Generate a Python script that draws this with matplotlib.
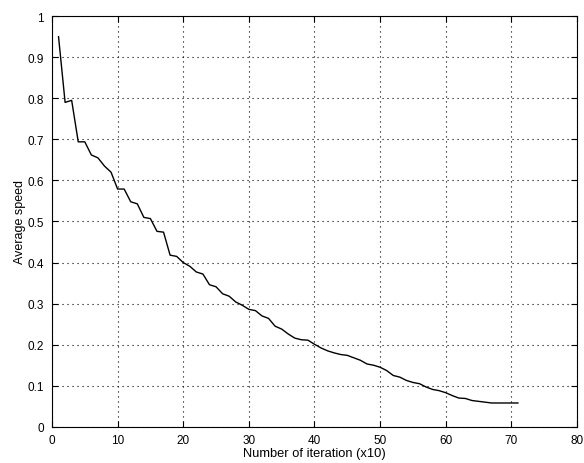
import matplotlib
matplotlib.use('Agg')
import matplotlib.pyplot as plt
plt.rcParams['font.family'] = ['Liberation Sans', 'DejaVu Sans']

iterations = list(range(1, 72))
speed = [0.95, 0.79, 0.795, 0.694, 0.694, 0.662, 0.655, 0.635, 0.620, 0.579,
         0.579, 0.548, 0.543, 0.510, 0.507, 0.476, 0.474, 0.418, 0.415, 0.400,
         0.391, 0.377, 0.372, 0.346, 0.341, 0.324, 0.318, 0.304, 0.296, 0.286,
         0.283, 0.270, 0.264, 0.245, 0.238, 0.226, 0.216, 0.212, 0.211, 0.201,
         0.192, 0.185, 0.180, 0.176, 0.174, 0.168, 0.162, 0.153, 0.150, 0.145,
         0.137, 0.125, 0.121, 0.113, 0.108, 0.105, 0.097, 0.091, 0.088, 0.083,
         0.076, 0.070, 0.069, 0.064, 0.062, 0.060, 0.058, 0.058, 0.058, 0.058,
         0.058]
xticks = [0, 10, 20, 30, 40, 50, 60, 70, 80]
yticks = [0, 0.1, 0.2, 0.3, 0.4, 0.5, 0.6, 0.7, 0.8, 0.9, 1]
ytick_labels = ['0', '0.1', '0.2', '0.3', '0.4', '0.5', '0.6', '0.7', '0.8', '0.9', '1']

fig = plt.figure(figsize=(5.84, 4.64), dpi=100)
ax = fig.add_axes([0.089, 0.078, 0.899, 0.885])
ax.plot(iterations, speed, color='black', linewidth=1.0)
ax.set_xlim(0, 80)
ax.set_ylim(0, 1)
ax.set_xticks(xticks)
ax.set_yticks(yticks)
ax.set_yticklabels(ytick_labels)
ax.grid(True, linestyle=(0, (1, 3.5)), color='black', linewidth=0.8)
ax.tick_params(direction='in', top=True, right=True, labelsize=8.5, length=4)
ax.tick_params(axis='x', pad=5)
ax.tick_params(axis='y', pad=6)
for s in ax.spines.values():
    s.set_linewidth(0.8)
ax.set_xlabel('Number of iteration (x10)', fontsize=9.3, labelpad=1)
ax.set_ylabel('Average speed', fontsize=9.0, labelpad=1)

fig.savefig('out.png', dpi=100)
